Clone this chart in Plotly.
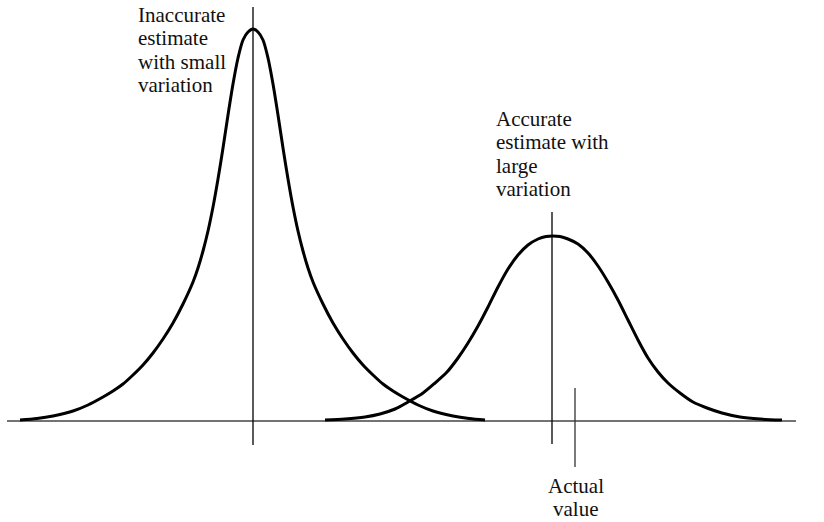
import plotly.graph_objects as go

# ---- data (x: value scale, y: density height) ----
narrow_x = [20, 37, 53, 73, 88, 103, 113, 123, 133, 143, 153, 163, 173, 183, 193, 198, 203,
            208, 213, 218, 223, 228, 233, 238, 243, 248, 253,
            258, 263, 268, 273, 278, 283, 288, 293, 298, 303, 308, 313, 323, 333, 343,
            353, 363, 373, 383, 393, 403, 418, 433, 453, 469, 485]
narrow_y = [0, 1.5, 4, 9, 15, 23, 29, 36, 45, 55, 67, 81, 97, 116, 138, 152, 169,
            189, 213, 241, 272, 305, 336, 362, 380, 388, 391,
            388, 380, 362, 336, 305, 272, 241, 213, 189, 169, 152, 138, 116, 97, 81,
            67, 55, 45, 36, 29, 23, 15, 9, 4, 1.5, 0]

wide_x = [325, 345, 365, 380, 395, 408, 423, 435, 447, 458, 468, 478, 488, 498, 508, 518,
          528, 538, 546, 553, 560, 568, 578, 588, 598, 608, 618, 628, 638, 648, 658, 668,
          680, 693, 707, 722, 740, 760, 782]
wide_y = [0, 1, 3, 6, 11, 18, 27, 37, 48, 62, 77, 94, 113, 133, 151, 165,
          175, 181, 183.5, 184, 183.5, 181, 176, 167, 154, 138, 120, 100, 80, 62, 48, 37,
          27, 18, 12, 7, 3, 1, 0]

inaccurate_estimate = 253
accurate_estimate = 552
actual_value = 575

axis_span = [7, 796]

label_inaccurate = ["Inaccurate", "estimate", "with small", "variation"]
label_accurate = ["Accurate", "estimate with", "large", "variation"]
label_actual = ["Actual", "value"]

FONT = "Liberation Serif, Times New Roman, serif"

fig = go.Figure()

# horizontal axis line
fig.add_trace(go.Scatter(x=axis_span, y=[-1, -1], mode="lines",
                         line=dict(color="#444444", width=1.5), hoverinfo="skip"))

# estimate markers
fig.add_trace(go.Scatter(x=[inaccurate_estimate, inaccurate_estimate], y=[413, -25], mode="lines",
                         line=dict(color="#000000", width=1.3), hoverinfo="skip"))
fig.add_trace(go.Scatter(x=[accurate_estimate, accurate_estimate], y=[208, -24], mode="lines",
                         line=dict(color="#000000", width=1.3), hoverinfo="skip"))
fig.add_trace(go.Scatter(x=[actual_value, actual_value], y=[32, -47], mode="lines",
                         line=dict(color="#333333", width=1.3), hoverinfo="skip"))

# curves
fig.add_trace(go.Scatter(x=narrow_x, y=narrow_y, mode="lines",
                         line=dict(color="#000000", width=3, shape="spline", smoothing=0.8),
                         hoverinfo="skip"))
fig.add_trace(go.Scatter(x=wide_x, y=wide_y, mode="lines",
                         line=dict(color="#000000", width=3, shape="spline", smoothing=0.8),
                         hoverinfo="skip"))

LINE_STEP = 23.4

def add_lines(lines, x, y_first, xanchor):
    for i, t in enumerate(lines):
        fig.add_annotation(x=x, y=y_first - i * LINE_STEP, xref="x", yref="y",
                           text=t, showarrow=False, xanchor=xanchor, yanchor="middle",
                           font=dict(family=FONT, size=21, color="#111111"))

add_lines(label_inaccurate, 136, 405.3, "left")
add_lines(label_accurate, 494, 301, "left")
add_lines(label_actual, 575.5, -65.7, "center")

fig.update_layout(
    width=824, height=522,
    margin=dict(l=0, r=0, t=0, b=0),
    paper_bgcolor="white", plot_bgcolor="white",
    showlegend=False,
    hovermode=False,
    xaxis=dict(range=[0, 824], visible=False, fixedrange=True),
    yaxis=dict(range=[-102, 420], visible=False, fixedrange=True),
)

# remove the default page margin so the 824x522 figure fills the window exactly
fig.write_html("out.html",
               config={"displayModeBar": False, "staticPlot": True},
               post_script="document.body.style.margin='0';document.body.style.overflow='hidden';")
